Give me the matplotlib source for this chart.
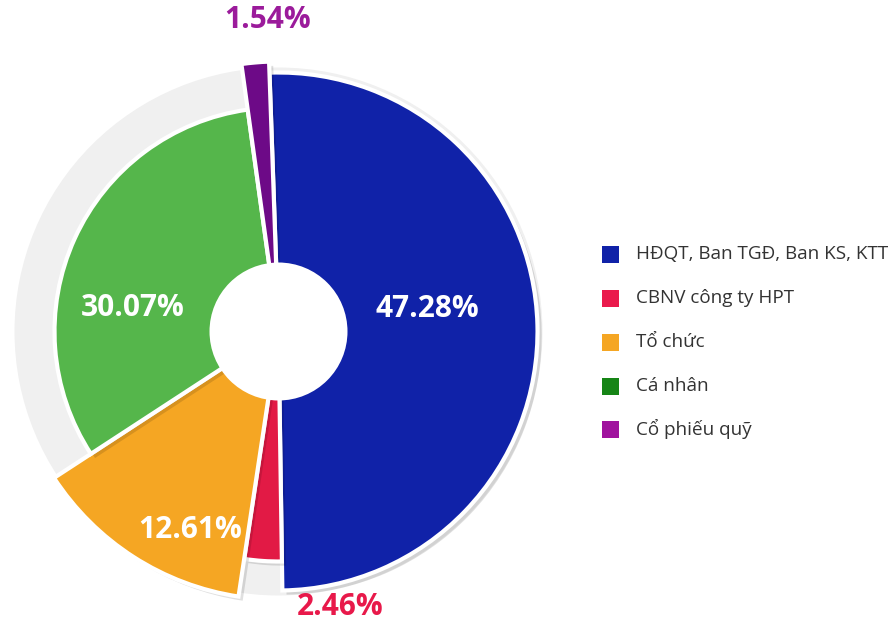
import matplotlib
matplotlib.use("Agg")
import matplotlib.pyplot as plt
import matplotlib.patches as patches
import matplotlib.patheffects as pe

# data
labels = ["HĐQT, Ban TGĐ, Ban KS, KTT", "CBNV công ty HPT", "Tổ chức",
          "Cá nhân", "Cổ phiếu quỹ"]
shares = [47.28, 2.46, 12.61, 30.07, 1.54]
share_text = ["47.28%", "2.46%", "12.61%", "30.07%", "1.54%"]

# style
wedge_colors = ["#1022A8", "#E21A45", "#F5A623", "#55B64B", "#6D0A87"]
legend_colors = ["#1022A8", "#EA1A4C", "#F5A623", "#168516", "#A0139E"]
radii = [259, 230, 268, 224, 270]
offsets = [6, 0, 10, 0, 6]
FONT = ["Open Sans", "DejaVu Sans"]

W, H = 891, 623
cx, cy = 278.5, H - 331.5

fig = plt.figure(figsize=(W / 100, H / 100), dpi=100)
ax = fig.add_axes([0, 0, 1, 1])

# grey background ring
ax.add_patch(patches.Circle((cx, cy), 264, facecolor="#F0F0F0",
                            edgecolor="none", zorder=0))

base_r = 260
wedges, _ = ax.pie(shares, colors=wedge_colors, startangle=92,
                   counterclock=False, radius=base_r, center=(cx, cy),
                   explode=[o / base_r for o in offsets],
                   wedgeprops=dict(edgecolor="white", linewidth=3))
for w, r in zip(wedges, radii):
    w.set_radius(r)
    w.set_path_effects([pe.SimplePatchShadow(offset=(3, -3),
                                             shadow_rgbFace="black",
                                             alpha=0.12),
                        pe.Normal()])

# centre hole
ax.add_patch(patches.Circle((cx, cy), 69, facecolor="white",
                            edgecolor="none", zorder=5))

# value labels (pixel positions from the reference)
label_pos = [(427, 309), (340, 607), (190, 530), (133, 308), (268, 20)]
label_col = ["white", "#E8194A", "white", "white", "#9B1B9B"]
for txt, (x, y), c in zip(share_text, label_pos, label_col):
    ax.text(x, H - y, txt, ha="center", va="center", fontsize=21.5,
            fontweight="bold", color=c, family=FONT, zorder=6)

# legend
leg_y = [254, 298, 342, 386, 429]
for lab, c, y in zip(labels, legend_colors, leg_y):
    ax.add_patch(patches.Rectangle((602, H - y - 8.5), 17, 17,
                                   facecolor=c, edgecolor="none"))
    ax.text(636, H - y, lab, ha="left", va="center", fontsize=13.6,
            color="#333333", family=FONT)

ax.set_xlim(0, W)
ax.set_ylim(0, H)
ax.set_aspect("equal")
ax.axis("off")

fig.savefig("out.png", dpi=100)
